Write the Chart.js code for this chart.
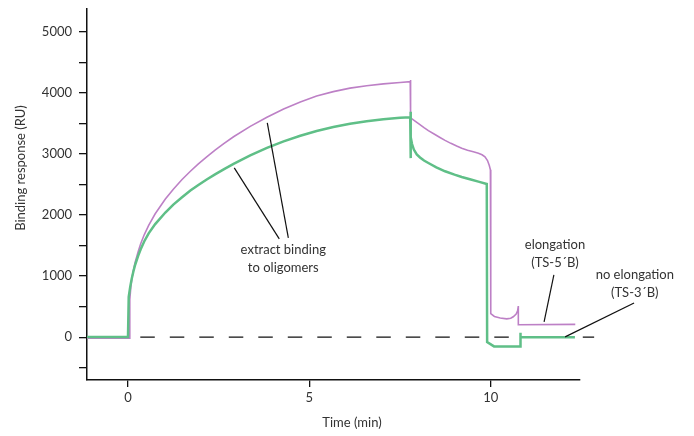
<!DOCTYPE html>
<html><head><meta charset="utf-8">
<script src="https://cdn.jsdelivr.net/npm/chart.js@4.4.0/dist/chart.umd.min.js"></script>
<style>html,body{margin:0;padding:0;background:#fff;}canvas{display:block;}</style>
</head><body>
<canvas id="c" width="694" height="436"></canvas>
<script>
// ---- data (time in min, response in RU) ----
const xTicks = [0, 5, 10];
const yTicks = [-500, 0, 500, 1000, 1500, 2000, 2500, 3000, 3500, 4000, 4500, 5000];

const greenTime = [-1.13, 0.0, 0.02, 0.06, 0.1, 0.15, 0.2, 0.28, 0.35, 0.45, 0.57, 0.75, 1.03, 1.25, 1.49, 1.72, 1.94, 2.17, 2.40, 2.65, 2.91, 3.37, 3.83, 4.29, 4.75, 5.2, 5.66, 6.12, 6.58, 7.04, 7.5, 7.78, 7.79, 7.79, 7.80, 7.83, 7.88, 7.96, 8.05, 8.16, 8.28, 8.5, 8.74, 9.0, 9.2, 9.45, 9.66, 9.89, 9.9, 10.09, 10.81, 10.81, 10.83, 12.32];
const greenResp = [5, 5, 660, 820, 950, 1080, 1190, 1330, 1440, 1570, 1700, 1850, 2040, 2170, 2290, 2400, 2490, 2580, 2665, 2750, 2835, 2975, 3097, 3205, 3297, 3373, 3438, 3491, 3534, 3566, 3589, 3598, 3690, 2930, 3270, 3160, 3070, 2990, 2940, 2890, 2850, 2780, 2715, 2660, 2622, 2580, 2545, 2508, -80, -150, -150, 75, 0, 0];

const purpleTime = [-1.13, 0.03, 0.05, 0.08, 0.11, 0.16, 0.2, 0.28, 0.35, 0.45, 0.57, 0.75, 1.03, 1.25, 1.49, 1.72, 1.94, 2.17, 2.40, 2.65, 2.91, 3.37, 3.83, 4.29, 4.75, 5.2, 5.66, 6.12, 6.58, 7.04, 7.5, 7.78, 7.79, 7.79, 8.0, 8.16, 8.28, 8.45, 8.6, 8.74, 8.9, 9.06, 9.2, 9.36, 9.52, 9.66, 9.76, 9.84, 9.91, 9.96, 9.99, 10.0, 10.1, 10.26, 10.44, 10.55, 10.62, 10.70, 10.74, 10.76, 10.76, 12.33];
const purpleResp = [-15, -15, 620, 830, 970, 1120, 1230, 1400, 1530, 1680, 1830, 2020, 2260, 2420, 2580, 2715, 2835, 2950, 3060, 3170, 3280, 3450, 3600, 3735, 3850, 3945, 4018, 4075, 4115, 4145, 4168, 4180, 4210, 3590, 3500, 3430, 3380, 3320, 3268, 3220, 3172, 3128, 3092, 3060, 3033, 3010, 2985, 2950, 2890, 2810, 2740, 385, 340, 315, 300, 310, 335, 380, 430, 510, 205, 210];

const baselineTime = [0, 12.85];
const baselineResp = [0, 0];

// annotation texts and leader lines (data coordinates)
const labelTexts = [
  {t: 4.28, v: 1428, text: "extract binding"},
  {t: 4.28, v: 1134, text: "to oligomers"},
  {t: 11.77, v: 1510, text: "elongation"},
  {t: 11.77, v: 1216, text: "(TS-5\u00B4B)"},
  {t: 13.97, v: 1020, text: "no elongation"},
  {t: 13.97, v: 725, text: "(TS-3\u00B4B)"}
];
const leaderLines = [
  [4.17, 1608, 2.93, 2770],
  [4.42, 1625, 3.84, 3507],
  [11.74, 1020, 11.47, 250],
  [13.95, 561, 12.05, 5]
];

const xTitle = "Time (min)";
const yTitle = "Binding response (RU)";

const toPts = (xs, ys) => xs.map((x, i) => ({x: x, y: ys[i]}));
const FONT = "Lato";
const TXT = "#333";

const annotPlugin = {
  id: "annot",
  afterDraw(chart) {
    const ctx = chart.ctx, xs = chart.scales.x, ys = chart.scales.y;
    ctx.save();
    ctx.strokeStyle = "#111";
    ctx.lineWidth = 1.2;
    leaderLines.forEach(l => {
      ctx.beginPath();
      ctx.moveTo(xs.getPixelForValue(l[0]), ys.getPixelForValue(l[1]));
      ctx.lineTo(xs.getPixelForValue(l[2]), ys.getPixelForValue(l[3]));
      ctx.stroke();
    });
    ctx.fillStyle = TXT;
    ctx.font = "13px " + FONT;
    ctx.textAlign = "center";
    ctx.textBaseline = "middle";
    labelTexts.forEach(l => {
      ctx.fillText(l.text, xs.getPixelForValue(l.t), ys.getPixelForValue(l.v));
    });
    // axis titles
    ctx.fillText(xTitle, 352, 423);
    ctx.translate(21, 168);
    ctx.rotate(-Math.PI / 2);
    ctx.fillText(yTitle, 0, 0);
    ctx.restore();
  }
};

const noPad = s => { s.paddingTop = 0; s.paddingBottom = 0; s.paddingLeft = 0; s.paddingRight = 0; };

new Chart(document.getElementById("c"), {
  type: "line",
  data: {
    datasets: [
      {data: toPts(greenTime, greenResp), borderColor: "#5fbf87", borderWidth: 2.5, pointRadius: 0, tension: 0, fill: false, order: 0},
      {data: toPts(purpleTime, purpleResp), borderColor: "#bd80c6", borderWidth: 1.6, pointRadius: 0, tension: 0, fill: false, order: 1},
      {data: toPts(baselineTime, baselineResp), borderColor: "#111", borderWidth: 1.3, borderDash: [14.5, 15], borderDashOffset: 17.2, pointRadius: 0, tension: 0, fill: false, order: 2, clip: false}
    ]
  },
  options: {
    responsive: false,
    animation: false,
    devicePixelRatio: 1,
    layout: {padding: {left: 0, top: 9, right: 114, bottom: 0}},
    plugins: {legend: {display: false}, tooltip: {enabled: false}},
    scales: {
      x: {
        type: "linear", min: -1.13, max: 12.46,
        afterBuildTicks: s => { s.ticks = xTicks.map(v => ({value: v})); },
        afterFit: s => { s.height = 56; noPad(s); },
        ticks: {font: {family: FONT, size: 13}, color: TXT, padding: 3, maxRotation: 0, autoSkip: false},
        grid: {drawOnChartArea: false, drawTicks: true, tickLength: 7, color: "#111", lineWidth: 1.3},
        border: {display: true, color: "#111", width: 1.5}
      },
      y: {
        type: "linear", min: -700, max: 5370,
        afterBuildTicks: s => { s.ticks = yTicks.map(v => ({value: v})); },
        afterFit: s => { s.width = 87; noPad(s); },
        ticks: {font: {family: FONT, size: 13}, color: TXT, padding: 7, autoSkip: false,
          callback: v => (v % 1000 === 0 ? String(v) : "")},
        grid: {drawOnChartArea: false, drawTicks: true, tickLength: 8, color: "#111", lineWidth: 1.3},
        border: {display: true, color: "#111", width: 1.5}
      }
    }
  },
  plugins: [annotPlugin]
});
</script>
</body></html>
